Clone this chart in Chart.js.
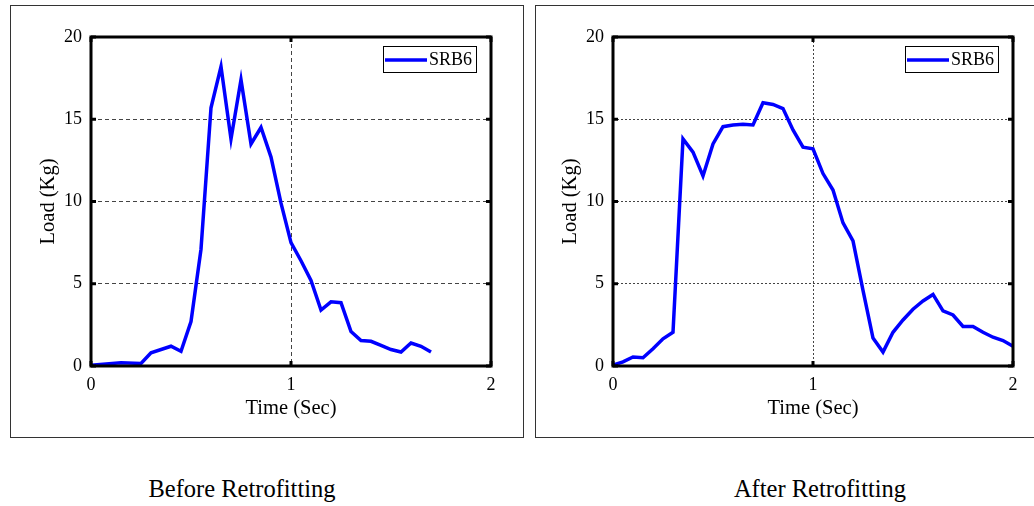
<!DOCTYPE html>
<html>
<head>
<meta charset="utf-8">
<script src="https://cdn.jsdelivr.net/npm/chart.js@4"></script>
<style>
  html, body { margin: 0; padding: 0; background: #fff; overflow: hidden; }
  body { width: 1034px; height: 506px; position: relative; font-family: "Liberation Serif", serif; }
  .frame { position: absolute; top: 5px; width: 512px; height: 431px; border: 1.5px solid #333; }
  .frame canvas { position: absolute; left: 0; top: 0; }
  .caption { position: absolute; top: 475px; font-size: 24.5px; color: #000; transform: translateX(-50%); white-space: nowrap; }
</style>
</head>
<body>
<div class="frame" id="leftFrame" style="left:10px;"><div style="position:absolute;left:0;top:0;width:512px;height:431px;"><canvas id="before"></canvas></div></div>
<div class="frame" id="rightFrame" style="left:535px;"><div style="position:absolute;left:0;top:0;width:512px;height:431px;"><canvas id="after"></canvas></div></div>
<div class="caption" style="left:242px;">Before Retrofitting</div>
<div class="caption" style="left:820px;">After Retrofitting</div>

<script>
// time (sec) and load (kg)
const timeBefore = [0, 0.15, 0.25, 0.30, 0.40, 0.45, 0.50, 0.55, 0.60, 0.65, 0.70, 0.75, 0.80, 0.85, 0.90, 0.95,
  1.00, 1.05, 1.10, 1.15, 1.20, 1.25, 1.30, 1.35, 1.40, 1.45, 1.50, 1.55, 1.60, 1.65, 1.70];
const loadBefore = [0.05, 0.2, 0.15, 0.8, 1.2, 0.9, 2.7, 7.1, 15.7, 18.2, 13.8, 17.4, 13.5, 14.5, 12.7, 9.9,
  7.5, 6.4, 5.2, 3.4, 3.9, 3.85, 2.1, 1.55, 1.5, 1.25, 1.0, 0.85, 1.4, 1.2, 0.85];

const timeAfter = [0, 0.05, 0.10, 0.15, 0.20, 0.25, 0.30, 0.35, 0.40, 0.45, 0.50, 0.55, 0.60, 0.65, 0.70, 0.75,
  0.80, 0.85, 0.90, 0.95, 1.00, 1.05, 1.10, 1.15, 1.20, 1.25, 1.30, 1.35, 1.40, 1.45, 1.50, 1.55, 1.60, 1.65,
  1.70, 1.75, 1.80, 1.85, 1.90, 1.95, 2.00];
const loadAfter = [0.05, 0.25, 0.55, 0.5, 1.05, 1.65, 2.05, 13.8, 13.0, 11.55, 13.5, 14.55, 14.65, 14.7, 14.65, 16.0,
  15.9, 15.65, 14.35, 13.3, 13.2, 11.7, 10.7, 8.7, 7.6, 4.6, 1.7, 0.85, 2.05, 2.8, 3.45, 3.95, 4.35, 3.35,
  3.1, 2.4, 2.4, 2.05, 1.75, 1.55, 1.2];

const xTicks = [0, 1, 2];
const yTicks = [0, 5, 10, 15, 20];
const seriesName = 'SRB6';

const FONT = '"Liberation Serif", "Times New Roman", serif';

// thick box, inward tick marks and boxed legend, MATLAB style
const boxPlugin = {
  id: 'box',
  afterDraw(chart) {
    const ctx = chart.ctx;
    const a = chart.chartArea;
    const xs = chart.scales.x, ys = chart.scales.y;
    ctx.save();
    ctx.strokeStyle = '#000';
    ctx.lineWidth = 3;
    ctx.strokeRect(a.left, a.top, a.right - a.left, a.bottom - a.top);
    xTicks.forEach(v => {
      const px = xs.getPixelForValue(v);
      ctx.beginPath();
      ctx.moveTo(px, a.bottom); ctx.lineTo(px, a.bottom - 5);
      ctx.moveTo(px, a.top); ctx.lineTo(px, a.top + 5);
      ctx.stroke();
    });
    yTicks.forEach(v => {
      const py = ys.getPixelForValue(v);
      ctx.beginPath();
      ctx.moveTo(a.left, py); ctx.lineTo(a.left + 5, py);
      ctx.moveTo(a.right, py); ctx.lineTo(a.right - 5, py);
      ctx.stroke();
    });

    // legend
    const ds = chart.data.datasets[0];
    const w = 93, h = 26;
    const lx = a.right - 15 - w, ly = a.top + 9;
    ctx.fillStyle = '#fff';
    ctx.fillRect(lx, ly, w, h);
    ctx.lineWidth = 1;
    ctx.strokeStyle = '#000';
    ctx.strokeRect(lx + 0.5, ly + 0.5, w, h);
    ctx.strokeStyle = ds.borderColor;
    ctx.lineWidth = 3.5;
    ctx.beginPath();
    ctx.moveTo(lx + 2, ly + h / 2 + 1);
    ctx.lineTo(lx + 44, ly + h / 2 + 1);
    ctx.stroke();
    ctx.fillStyle = '#000';
    ctx.font = '18px ' + FONT;
    ctx.textBaseline = 'middle';
    ctx.fillText(ds.label, lx + 46, ly + h / 2 + 1);
    ctx.restore();
  }
};

function makeChart(id, times, loads, padLeft, padRight, dash, titlePad) {
  const ctx = document.getElementById(id).getContext('2d');
  return new Chart(ctx, {
    type: 'line',
    data: {
      datasets: [{
        label: seriesName,
        data: times.map((t, i) => ({ x: t, y: loads[i] })),
        borderColor: '#0000ff',
        borderWidth: 3.5,
        pointRadius: 0,
        tension: 0,
        fill: false
      }]
    },
    options: {
      responsive: true,
      maintainAspectRatio: false,
      animation: false,
      layout: { padding: { left: padLeft, right: padRight, top: 31, bottom: 16 } },
      plugins: { legend: { display: false }, tooltip: { enabled: false } },
      scales: {
        x: {
          type: 'linear',
          min: 0, max: 2,
          afterBuildTicks: s => { s.ticks = xTicks.map(v => ({ value: v })); },
          afterFit: s => { s.height = 55; },
          grid: { color: '#444', lineWidth: 1, drawTicks: false },
          border: { display: false, dash: dash },
          ticks: { color: '#000', padding: 8, font: { family: FONT, size: 18 } },
          title: { display: true, text: 'Time (Sec)', color: '#000', padding: { top: 0, bottom: 0 },
                   font: { family: FONT, size: 20.5 } }
        },
        y: {
          min: 0, max: 20,
          afterBuildTicks: s => { s.ticks = yTicks.map(v => ({ value: v })); },
          afterFit: s => { s.width = 70; },
          grid: { color: '#444', lineWidth: 1, drawTicks: false },
          border: { display: false, dash: dash },
          ticks: { color: '#000', padding: 9, font: { family: FONT, size: 18 } },
          title: { display: true, text: 'Load (Kg)', color: '#000', padding: { top: titlePad, bottom: 0 },
                   font: { family: FONT, size: 20.5 } }
        }
      }
    },
    plugins: [boxPlugin]
  });
}

makeChart('before', timeBefore, loadBefore, 10, 32, [4, 3], 15);
makeChart('after', timeAfter, loadAfter, 7, 35, [2, 2], 15);
</script>
</body>
</html>
